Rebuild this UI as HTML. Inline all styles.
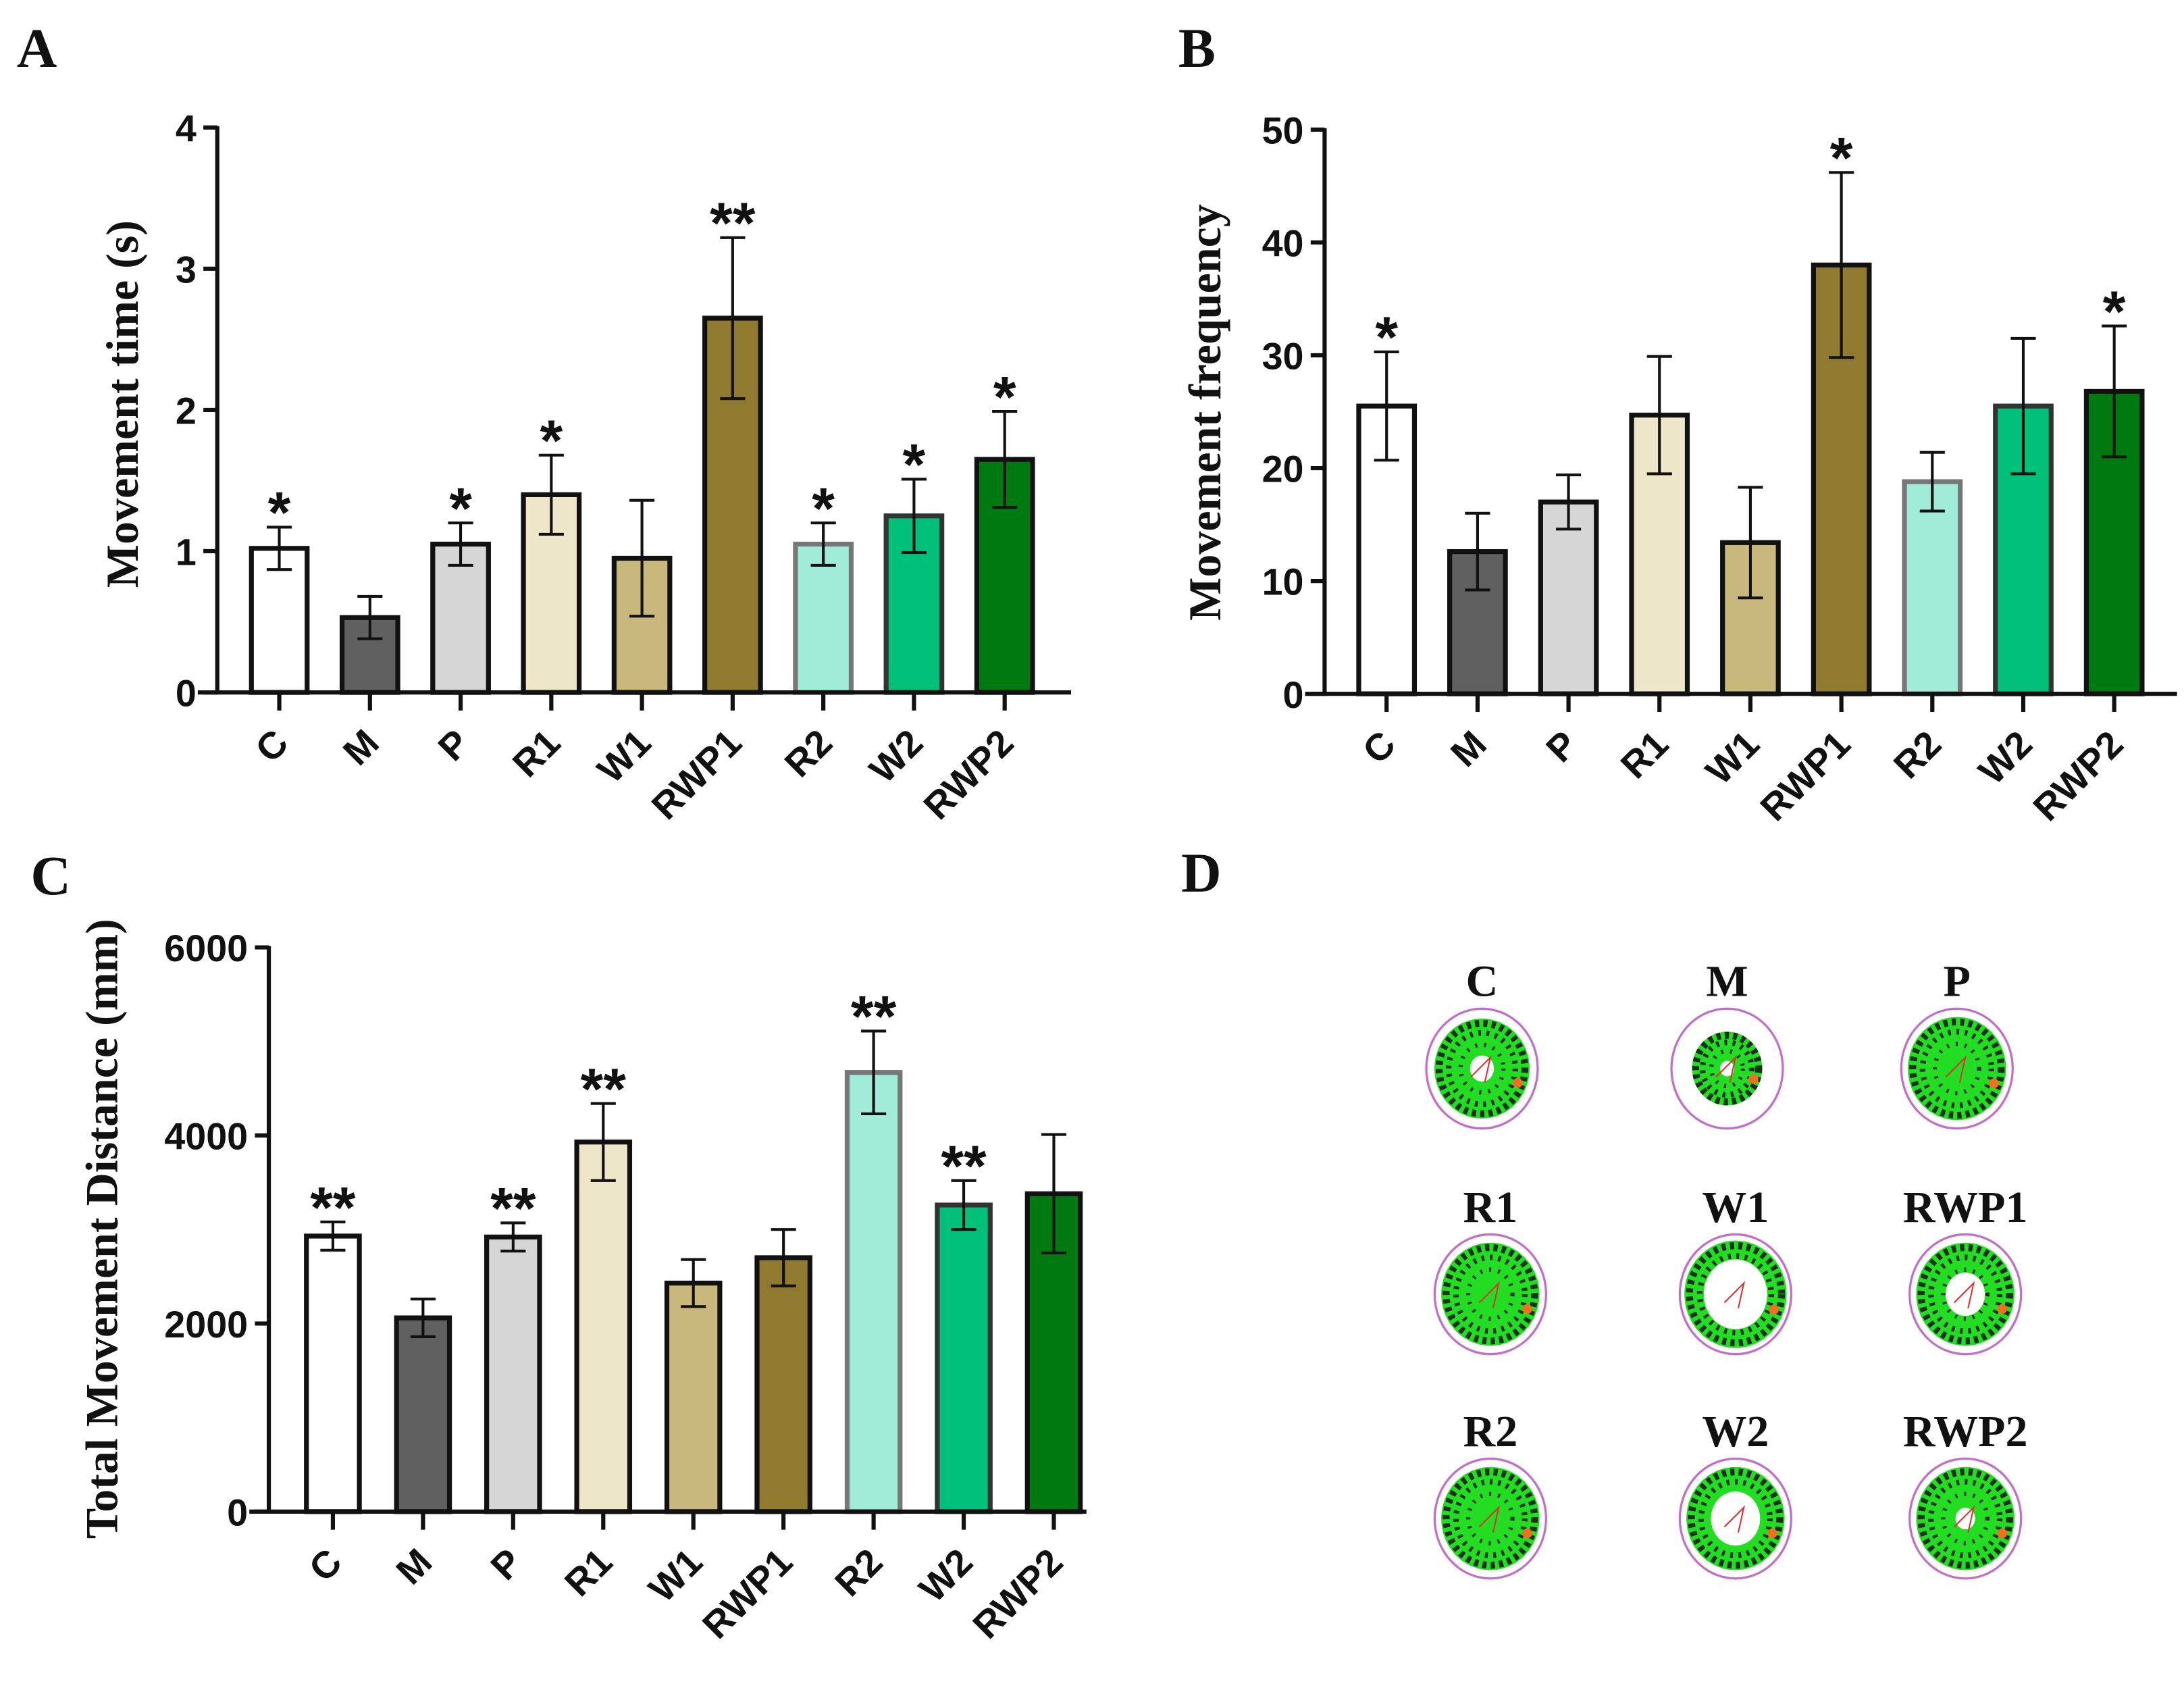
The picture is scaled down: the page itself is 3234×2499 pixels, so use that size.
<!DOCTYPE html>
<html><head><meta charset="utf-8">
<style>
html,body{margin:0;padding:0;background:#fff;}
svg{display:block;}
.tick{font-family:"Liberation Sans",Arial,sans-serif;font-weight:bold;font-size:27px;fill:#111;}
.xt{font-family:"Liberation Sans",Arial,sans-serif;font-weight:bold;font-size:27px;fill:#111;}
.ttl{font-family:"Liberation Serif","Times New Roman",serif;font-weight:bold;font-size:33px;fill:#111;}
.pl{font-family:"Liberation Serif","Times New Roman",serif;font-weight:bold;font-size:40px;fill:#111;}
.dl{font-family:"Liberation Serif","Times New Roman",serif;font-weight:bold;font-size:32px;fill:#111;}
.star{font-family:"Liberation Sans",Arial,sans-serif;font-weight:bold;font-size:42px;fill:#111;}
</style></head>
<body>
<svg id="fig" width="3234" height="2499" viewBox="0 0 1568 1211.6" xmlns="http://www.w3.org/2000/svg">
<rect width="1568" height="1212" fill="#fff"/>
<g id="gA"></g>
<g id="gB"></g>
<g id="gC"></g>
<g id="gD"></g>
</svg>
<script>
const categories = ["C","M","P","R1","W1","RWP1","R2","W2","RWP2"];
const fills = ["#ffffff","#606060","#d6d6d6","#eee6c8","#c9b87c","#8f7a2f","#a0ecd8","#00c07a","#007a10"];
const strokes = ["#111","#111","#111","#111","#111","#111","#777","#333","#111"];

const timeValues = [1.02,0.53,1.05,1.40,0.95,2.65,1.05,1.25,1.65];
const timeErrors = [0.15,0.15,0.15,0.28,0.41,0.57,0.15,0.26,0.34];
const timeStars = ["*","","*","*","","**","*","*","*"];
const timeTicks = [0,1,2,3,4];

const freqValues = [25.5,12.6,17.0,24.7,13.4,38.0,18.8,25.5,26.8];
const freqErrors = [4.8,3.4,2.4,5.2,4.9,8.2,2.6,6.0,5.8];
const freqStars = ["*","","","","","*","","","*"];
const freqTicks = [0,10,20,30,40,50];

const distValues = [2930,2060,2920,3930,2430,2700,4670,3260,3380];
const distErrors = [150,200,150,410,250,300,440,260,630];
const distStars = ["**","","**","**","","","**","**",""];
const distTicks = [0,2000,4000,6000];

const NS="http://www.w3.org/2000/svg";
function mk(parent,tag,attrs,text){
  const e=document.createElementNS(NS,tag);
  for(const k in attrs) e.setAttribute(k,attrs[k]);
  if(text!==undefined) e.textContent=text;
  parent.appendChild(e); return e;
}

function drawChart(g, cfg, vals, errs, stars, ticks){
  const yS=v=>cfg.y0-(v-cfg.min)/(cfg.max-cfg.min)*(cfg.y0-cfg.yTop);
  const xS=i=>cfg.x1+cfg.pitch*i;
  let t=mk(g,'text',{x:cfg.lx,y:cfg.ly,class:'pl'},cfg.letter);
  
  
  let a=mk(g,'line',{x1:cfg.ax,y1:cfg.yTop-1,x2:cfg.ax,y2:cfg.y0+1.5,stroke:'#111','stroke-width':3});
  
  
  ticks.forEach(v=>{
    const y=yS(v);
    let l=mk(g,'line',{x1:cfg.ax-10,y1:y,x2:cfg.ax,y2:y,stroke:'#111','stroke-width':3});
    
    
    let tl=mk(g,'text',{x:cfg.ax-15,y:y+10,class:'tick','text-anchor':'end'},String(v));
    
    
  });
  let yt=mk(g,'text',{class:'ttl','text-anchor':'middle',transform:`translate(${cfg.tx},${cfg.ty}) rotate(-90)`},cfg.title);
  
  
  vals.forEach((v,i)=>{
    const cx=xS(i), w=cfg.bw, top=yS(v);
    let b=mk(g,'rect',{x:cx-w/2,y:top,width:w,height:cfg.y0-top,fill:fills[i],stroke:strokes[i],'stroke-width':3.5});
    
    
    const hi=yS(v+errs[i]), lo=yS(v-errs[i]);
    let e=mk(g,'path',{d:`M${cx},${hi}V${lo}M${cx-9},${hi}H${cx+9}M${cx-9},${lo}H${cx+9}`,stroke:'#111','stroke-width':2,fill:'none'});
    
    
    if(stars[i]){
      let s=mk(g,'text',{x:cx,y:hi+4,class:'star','text-anchor':'middle'},stars[i]);
      
      
    }
    let xt=mk(g,'line',{x1:cx,y1:cfg.y0,x2:cx,y2:cfg.y0+13,stroke:'#111','stroke-width':3});
    
    
    let xl=mk(g,'text',{class:'xt','text-anchor':'end',transform:`translate(${cx+8},${cfg.y0+38}) rotate(-45)`},categories[i]);
    
    
  });
  let xa=mk(g,'line',{x1:cfg.ax-14,y1:cfg.y0,x2:cfg.xEnd,y2:cfg.y0,stroke:'#111','stroke-width':3});
  
  
}

drawChart(document.getElementById('gA'),{letter:'A',lx:12,ly:48,ax:156,yTop:91.5,y0:497,min:0,max:4,x1:200.5,pitch:65.1,bw:40,xEnd:769,title:'Movement time (s)',tx:99,ty:290},timeValues,timeErrors,timeStars,timeTicks);
drawChart(document.getElementById('gB'),{letter:'B',lx:846,ly:48,ax:951,yTop:93,y0:498,min:0,max:50,x1:995.5,pitch:65.3,bw:40,xEnd:1563,title:'Movement frequency',tx:876,ty:296},freqValues,freqErrors,freqStars,freqTicks);
drawChart(document.getElementById('gC'),{letter:'C',lx:22,ly:642,ax:193,yTop:680,y0:1085,min:0,max:6000,x1:239,pitch:64.7,bw:38,xEnd:780,title:'Total Movement Distance (mm)',tx:84,ty:882},distValues,distErrors,distStars,distTicks);

const trackNames=["C","M","P","R1","W1","RWP1","R2","W2","RWP2"];
const trackInner=[0.95,0.7,0.98,0.98,1.02,0.98,0.98,0.98,0.98];
const trackHole=[0.25,0.2,0.05,0.05,0.62,0.4,0.1,0.5,0.2];
const gD=document.getElementById('gD');
let dL=mk(gD,'text',{x:848,y:640,class:'pl'},'D');


const colX=[1064,1240,1405], rowY=[767,929,1090];
trackNames.forEach((n,i)=>{
  const cx=colX[i%3]+(i>=3?6:0), cy=rowY[Math.floor(i/3)];
  const g=mk(gD,'g',{});
  
  
  let lab=mk(g,'text',{x:cx,y:cy-52,class:'dl','text-anchor':'middle'},n);
  
  
  mk(g,'ellipse',{cx:cx,cy:cy,rx:40,ry:43,fill:'#fff',stroke:'#c070c8','stroke-width':1.6});
  const r=36*trackInner[i];
  mk(g,'ellipse',{cx:cx,cy:cy,rx:r,ry:r*1.05,fill:'#22dd22'});
  mk(g,'ellipse',{cx:cx,cy:cy,rx:r*0.9,ry:r*0.95,fill:'none',stroke:'#183018','stroke-width':5,'stroke-dasharray':'3 3'});
  mk(g,'ellipse',{cx:cx,cy:cy,rx:r*0.7,ry:r*0.75,fill:'none',stroke:'#183018','stroke-width':4,'stroke-dasharray':'2 4'});
  mk(g,'ellipse',{cx:cx,cy:cy,rx:r*0.45,ry:r*0.5,fill:'none',stroke:'#183018','stroke-width':3,'stroke-dasharray':'1.5 5'});
  if(trackHole[i]>0.1) mk(g,'ellipse',{cx:cx,cy:cy,rx:r*trackHole[i],ry:r*trackHole[i]*1.1,fill:'#fff'});
  mk(g,'path',{d:`M${cx-8},${cy+6}L${cx+6},${cy-8}L${cx+2},${cy+10}`,stroke:'#e03030','stroke-width':1,fill:'none'});
  mk(g,'circle',{cx:cx+r*0.75,cy:cy+r*0.3,r:3.5,fill:'#f07020'});
});
</script>
</body></html>
